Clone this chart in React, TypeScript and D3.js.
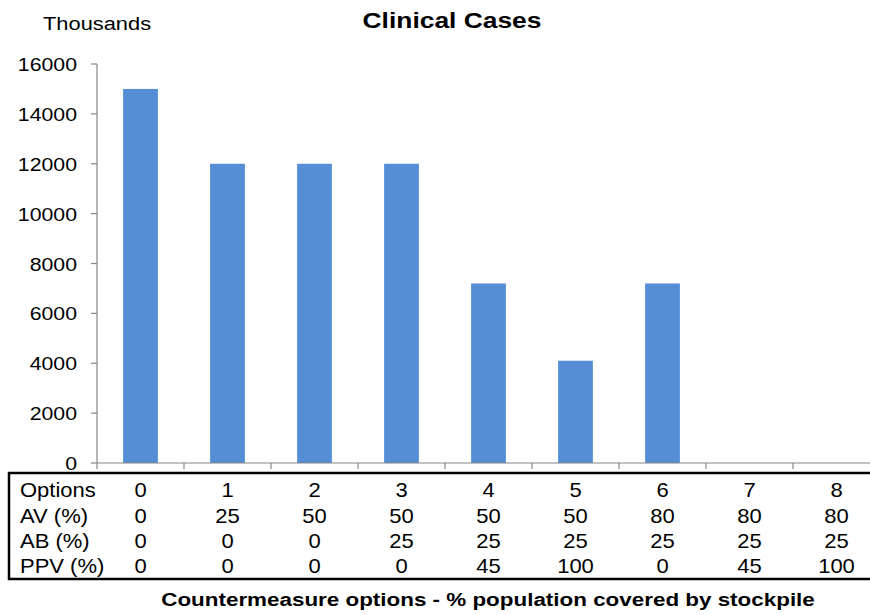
import React from "react";
import * as d3 from "d3";

const categories = ["0", "1", "2", "3", "4", "5", "6", "7", "8"];
const clinicalCases = [15000, 12000, 12000, 12000, 7200, 4100, 7200, 0, 0];
const yTicks = [0, 2000, 4000, 6000, 8000, 10000, 12000, 14000, 16000];
const rowLabels = ["Options", "AV (%)", "AB (%)", "PPV (%)"];
const avRow = ["0", "25", "50", "50", "50", "50", "80", "80", "80"];
const abRow = ["0", "0", "0", "25", "25", "25", "25", "25", "25"];
const ppvRow = ["0", "0", "0", "0", "45", "100", "0", "45", "100"];

const W = 870;
const H = 615;
const FONT = "'Liberation Sans', Arial, sans-serif";

type TProps = {
  x: number;
  y: number;
  size: number;
  sx?: number;
  anchor?: "start" | "middle" | "end";
  bold?: boolean;
  children: React.ReactNode;
};

function T({ x, y, size, sx = 1, anchor = "start", bold = false, children }: TProps) {
  return (
    <text
      transform={`translate(${x},${y}) scale(${sx},1)`}
      textAnchor={anchor}
      fontFamily={FONT}
      fontSize={size}
      fontWeight={bold ? "bold" : "normal"}
      fill="#000"
    >
      {children}
    </text>
  );
}

export default function App() {
  const x = d3.scaleBand<string>().domain(categories).range([97, 880]).paddingInner(0.6).paddingOuter(0.3);
  const y = d3.scaleLinear().domain([0, 16000]).range([463, 64]);
  const step = x.step();
  const boundaries = categories.map((_, i) => 97 + i * step).concat([97 + categories.length * step]);
  const rows = [categories, avRow, abRow, ppvRow];
  const rowY = [497, 523, 548, 573];
  const axisColor = "#868686";

  return (
    <svg width={W} height={H} style={{ position: "absolute", left: 0, top: 0, background: "#fff" }}>
      <rect width={W} height={H} fill="#fff" />
      <T x={452} y={28} size={22} sx={1.2} anchor="middle" bold>
        Clinical Cases
      </T>
      <T x={43} y={30} size={19} sx={1.15}>
        Thousands
      </T>
      {/* y axis */}
      <line x1={97} x2={97} y1={y(16000)} y2={y(0)} stroke={axisColor} strokeWidth={1.2} />
      {yTicks.map((t) => (
        <g key={t}>
          <line x1={91} x2={97} y1={y(t)} y2={y(t)} stroke={axisColor} strokeWidth={1.2} />
          <T x={77} y={y(t) + 7} size={19} sx={1.12} anchor="end">
            {t}
          </T>
        </g>
      ))}
      {/* bars */}
      {categories.map((c, i) => (
        <rect
          key={c}
          x={x(c)}
          y={y(clinicalCases[i])}
          width={x.bandwidth()}
          height={y(0) - y(clinicalCases[i])}
          fill="#558ED5"
        />
      ))}
      {/* x axis */}
      <line x1={97} x2={880} y1={y(0)} y2={y(0)} stroke={axisColor} strokeWidth={1.2} />
      {boundaries.map((b, i) => (
        <line key={i} x1={b} x2={b} y1={y(0)} y2={y(0) + 6} stroke={axisColor} strokeWidth={1.2} />
      ))}
      {/* data table */}
      <rect x={9} y={473} width={900} height={106} fill="none" stroke="#000" strokeWidth={2.5} />
      {rowLabels.map((lab, r) => (
        <T key={lab} x={20} y={rowY[r]} size={20} sx={1.1}>
          {lab}
        </T>
      ))}
      {rows.map((row, r) =>
        row.map((v, i) => (
          <T
            key={r + "-" + i}
            x={(x(categories[i]) as number) + x.bandwidth() / 2}
            y={rowY[r]}
            size={20}
            sx={1.1}
            anchor="middle"
          >
            {v}
          </T>
        ))
      )}
      <T x={488} y={606} size={19} sx={1.18} anchor="middle" bold>
        Countermeasure options - % population covered by stockpile
      </T>
    </svg>
  );
}
